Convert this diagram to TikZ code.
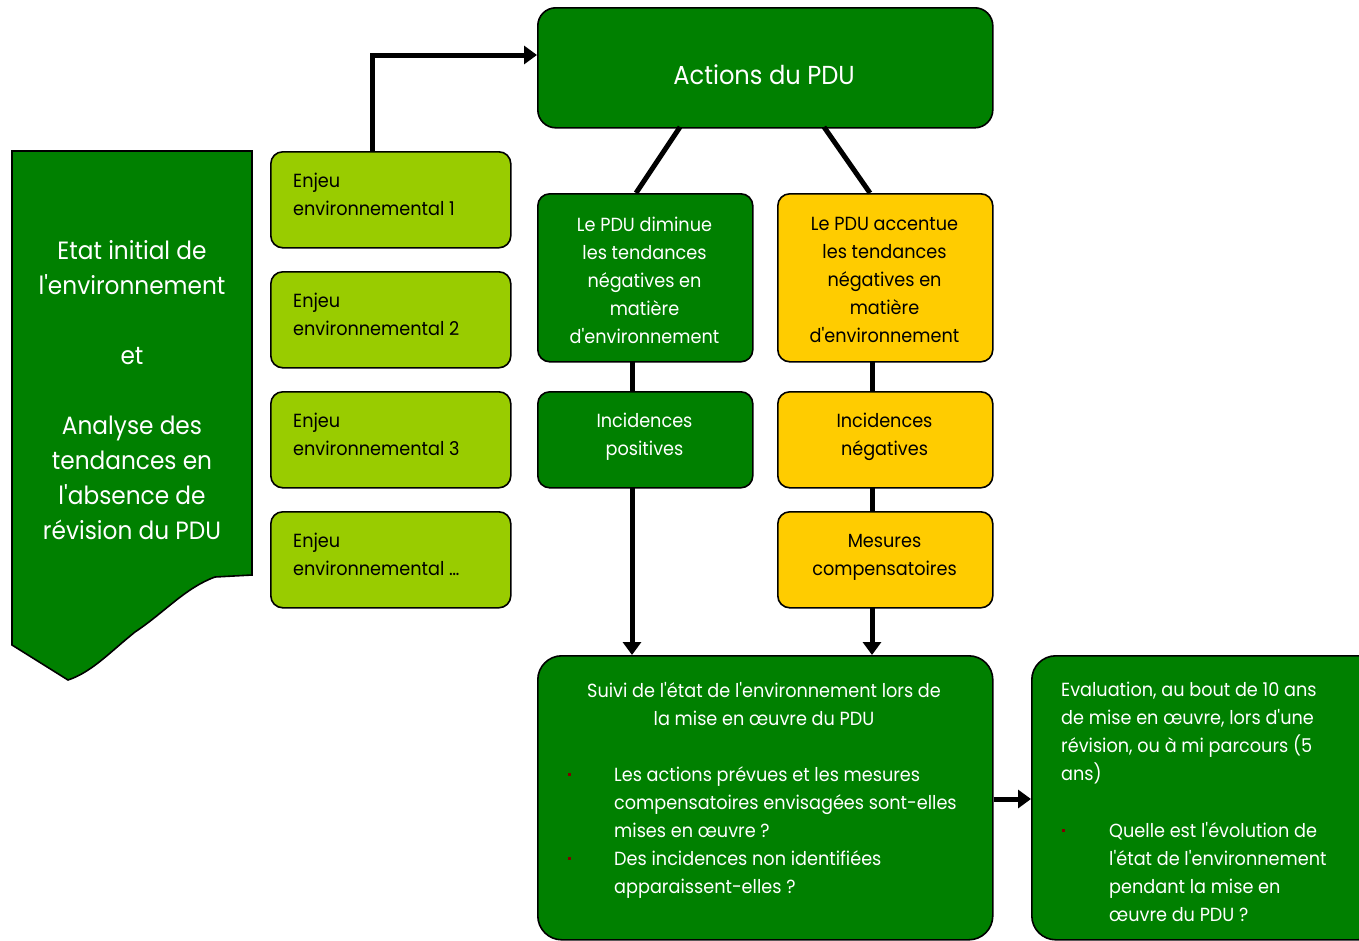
\documentclass[tikz,border=0pt]{standalone}
\usepackage{fontspec}
\setmainfont{Poppins}[FakeStretch=0.93,Ligatures=TeXOff]
\usetikzlibrary{arrows.meta,positioning}
\definecolor{dgreen}{HTML}{008000}
\definecolor{lgreen}{HTML}{99CC00}
\definecolor{yell}{HTML}{FFCC00}
\definecolor{bul}{HTML}{800000}
\tikzset{
  box/.style={draw=black, line width=1.6pt, rounded corners=12pt, anchor=north west, inner sep=0pt},
  gbox/.style={box, fill=dgreen, text=white},
  ybox/.style={box, fill=yell, text=black},
  lbox/.style={box, fill=lgreen, text=black},
  txt/.style={font=\fontsize{19}{28}\selectfont, inner sep=0pt},
  conn/.style={line width=5pt, draw=black},
  arr/.style={conn, -{Triangle[length=13pt,width=18pt]}},
  bullet/.style={fill=bul, minimum size=3pt, inner sep=0pt}
}
\begin{document}
\begin{tikzpicture}[x=1pt,y=-1pt]
\useasboundingbox (0,0) rectangle (1359,940);
% left document shape
\path[draw=black, line width=1.6pt, fill=dgreen] (12,151) -- (252,151) -- (252,575) -- (215,577)
  .. controls (185,588) and (165,612) .. (135,632)
  .. controls (110,652) and (92,672) .. (68,680)
  -- (12,645) -- cycle;
\node[txt, text=white, align=center, font=\fontsize{25}{35}\selectfont] (etat) at (132,390)
  {Etat initial de\\l'environnement\\[35pt]et\\[35pt]Analyse des\\tendances en\\l'absence de\\révision du PDU};
% Enjeux
\node[lbox, minimum width=240pt, minimum height=96pt] (e1) at (270,151) {};
\node[lbox, minimum width=240pt, minimum height=96pt] (e2) at (270,271) {};
\node[lbox, minimum width=240pt, minimum height=96pt] (e3) at (270,391) {};
\node[lbox, minimum width=240pt, minimum height=96pt] (e4) at (270,511) {};
\node[txt, anchor=west, align=left] (t1) at (293,194) {Enjeu\\environnemental 1};
\node[txt, anchor=west, align=left] (t2) at (293,314) {Enjeu\\environnemental 2};
\node[txt, anchor=west, align=left] (t3) at (293,434) {Enjeu\\environnemental 3};
\node[txt, anchor=west, align=left] (t4) at (293,554) {Enjeu\\environnemental \dots};
% Actions
\node[gbox, rounded corners=18pt, minimum width=455pt, minimum height=120pt] (act) at (537,7) {};
\node[txt, text=white, font=\fontsize{26}{30}\selectfont] (tact) at (764,75) {Actions du PDU};
% second row
\node[gbox, minimum width=215pt, minimum height=168pt] (dim) at (537,193) {};
\node[txt, text=white, align=center] (tdim) at (644.5,280) {Le PDU diminue\\les tendances\\négatives en\\matière\\d'environnement};
\node[ybox, minimum width=215pt, minimum height=168pt] (acc) at (777,193) {};
\node[txt, align=center] (tacc) at (884.5,280) {Le PDU accentue\\les tendances\\négatives en\\matière\\d'environnement};
\node[gbox, minimum width=215pt, minimum height=96pt] (pos) at (537,391) {};
\node[txt, text=white, align=center] (tpos) at (644.5,437) {Incidences\\positives};
\node[ybox, minimum width=215pt, minimum height=96pt] (neg) at (777,391) {};
\node[txt, align=center] (tneg) at (884.5,437) {Incidences\\négatives};
\node[ybox, minimum width=215pt, minimum height=96pt] (mes) at (777,511) {};
\node[txt, align=center] (tmes) at (884.5,557) {Mesures\\compensatoires};
% bottom boxes
\node[gbox, rounded corners=24pt, minimum width=455pt, minimum height=284pt] (suivi) at (537,655) {};
\node[txt, text=white, align=center, anchor=north] (ts1) at (764,682) {Suivi de l'état de l'environnement lors de\\la mise en œuvre du PDU};
\node[txt, text=white, align=left, anchor=north west] (ts2) at (614,766) {Les actions prévues et les mesures\\compensatoires envisagées sont-elles\\mises en œuvre ?\\Des incidences non identifiées\\apparaissent-elles ?};
\node[bullet] (b1) at (569,774) {};
\node[bullet] (b2) at (569,858) {};
\node[gbox, rounded corners=24pt, minimum width=350pt, minimum height=284pt] (eval) at (1031,655) {};
\node[txt, text=white, align=left, anchor=north west] (te1) at (1061,682) {Evaluation, au bout de 10 ans\\de mise en œuvre, lors d'une\\révision, ou à mi parcours (5\\ans)};
\node[txt, text=white, align=left, anchor=north west] (te2) at (1109,822) {Quelle est l'évolution de\\l'état de l'environnement\\pendant la mise en\\œuvre du PDU ?};
\node[bullet] (b3) at (1063,830) {};
% connectors
\coordinate (c1) at (372,55);
\draw[arr] (e1.north -| c1) -- (c1) -- (act.west |- c1);
\draw[conn] (680,127) -- (636,193);
\draw[conn] (824,127) -- (870,193);
\draw[conn] (632,361) -- (632,391);
\draw[conn] (872,361) -- (872,391);
\draw[conn] (872,487) -- (872,511);
\draw[arr] (632,487) -- (632,655);
\draw[arr] (872,607) -- (872,655);
\draw[arr] (suivi.east |- 0,799) -- (eval.west |- 0,799);
\end{tikzpicture}
\end{document}
